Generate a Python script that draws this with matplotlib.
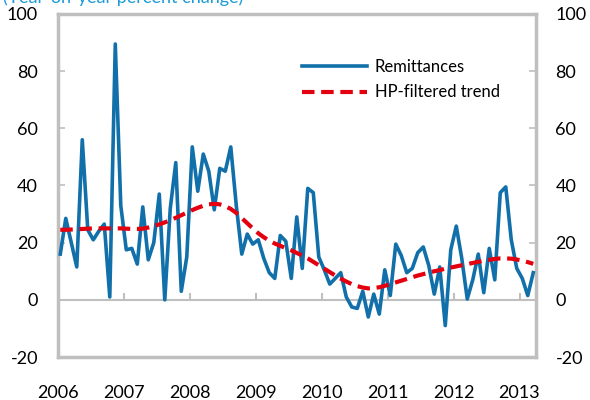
import numpy as np
import matplotlib.pyplot as plt

plt.rcParams['font.family'] = ['Lato', 'DejaVu Sans']
plt.rcParams['axes.unicode_minus'] = False

# Dades mensuals, gener 2006 - març 2013 (% interanual)
remesses = [16, 28.5, 20, 11.5, 56, 24.5, 21, 24, 26.5, 1, 89.5, 33,
            17.5, 18, 12.5, 32.5, 14, 20, 37, 0, 32, 48, 3, 15,
            53.5, 38, 51, 45, 31.5, 46, 45, 53.5, 33, 16, 23, 19.5,
            21, 14.5, 9.5, 7.5, 22.5, 20.5, 7.5, 29, 11, 39, 37.5, 15,
            10.5, 5.5, 7.5, 9.5, 1, -2.5, -3, 3, -6, 2, -5, 10.5,
            1.5, 19.5, 15.5, 9.5, 11, 16.5, 18.5, 12, 2, 11.5, -9, 17.5,
            25.8, 14.5, 0.3, 7, 16, 2.5, 18, 7, 37.5, 39.5, 21, 11,
            7.5, 1.5, 9.5]

tendencia_hp = [24.5, 24.5, 24.6, 24.7, 24.8, 24.9, 25, 25, 25, 25, 25, 25,
                24.9, 24.8, 24.8, 24.9, 25.3, 25.8, 26.4, 27.1, 27.9, 28.7, 29.6, 30.5,
                31.4, 32.2, 32.9, 33.4, 33.6, 33.4, 32.8, 31.8, 30.4, 28.6, 26.8, 25.0,
                23.3, 21.9, 20.7, 19.7, 18.9, 18.1, 17.3, 16.4, 15.5, 14.5, 13.3, 12.1,
                10.9, 9.7, 8.5, 7.4, 6.4, 5.5, 4.8, 4.3, 4.0, 4.1, 4.4, 4.9,
                5.5, 6.1, 6.7, 7.3, 7.9, 8.5, 9.0, 9.5, 10.0, 10.4, 10.9, 11.3,
                11.7, 12.1, 12.5, 12.9, 13.3, 13.7, 14.0, 14.3, 14.5, 14.5, 14.4, 14.1,
                13.7, 13.2, 12.6]

anys = ['2006', '2007', '2008', '2009', '2010', '2011', '2012', '2013']

gris = '#bfbfbf'
blau = '#1170aa'
vermell = '#e3000f'

mesos = np.arange(len(remesses)) + 0.5
pos_anys = np.arange(len(anys)) * 12

fig = plt.figure(figsize=(5.9, 4), dpi=100)
ax = fig.add_axes([0.0975, 0.1075, 0.811, 0.8575])

ax.plot(mesos, remesses, color=blau, lw=2.6, label='Remittances', zorder=3)
ax.plot(mesos, tendencia_hp, color=vermell, lw=3, dashes=(3, 1.6),
        label='HP-filtered trend', zorder=4)

# eix horitzontal a zero amb marques d'any cap amunt
ax.axhline(0, color=gris, lw=1.5, zorder=1)
ax.vlines(pos_anys[1:], 0, 2.4, color=gris, lw=1.5, zorder=1)

ax.set_xlim(0, len(remesses))
ax.set_ylim(-20, 100)
ax.set_yticks(range(-20, 101, 20))
ax.set_xticks(pos_anys)
ax.set_xticklabels(anys)

for s in ax.spines.values():
    s.set_color(gris)
    s.set_linewidth(2.5)

ax.tick_params(axis='x', length=0, pad=20, labelsize=13)
ax.tick_params(axis='y', direction='in', length=5, width=1.2, color=gris,
               pad=14, labelsize=13)

ax2 = ax.twinx()
ax2.set_ylim(-20, 100)
ax2.set_yticks(range(-20, 101, 20))
ax2.tick_params(axis='y', direction='in', length=5, width=1.2, color=gris,
                pad=14, labelsize=13)
for s in ax2.spines.values():
    s.set_visible(False)

ax.legend(loc='upper left', bbox_to_anchor=(0.511, 0.868), frameon=False,
          fontsize=12, handlelength=3.9, handletextpad=0.45, labelspacing=0.55,
          borderpad=0, borderaxespad=0)

fig.text(0.005, 1 - 3 / 400, '(Year-on-year percent change)', color='#1a9bd7',
         fontsize=13, va='baseline', ha='left')

plt.savefig('out.png', dpi=100)
